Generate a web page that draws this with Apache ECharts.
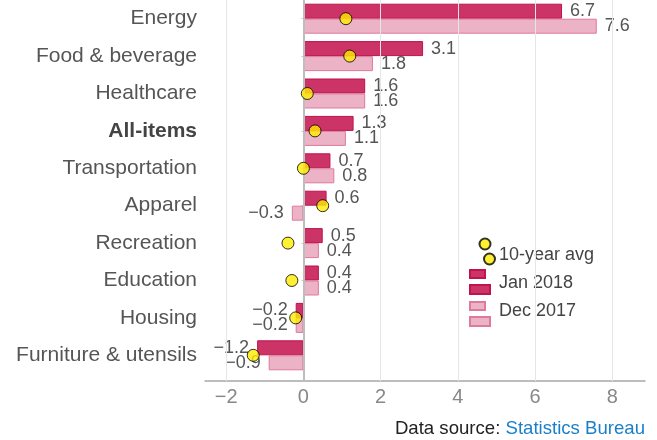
<!DOCTYPE html>
<html>
<head>
<meta charset="utf-8">
<script src="https://cdn.jsdelivr.net/npm/echarts@6/dist/echarts.min.js"></script>
<style>html,body{margin:0;padding:0;background:#fff}#c{width:657px;height:440px}</style>
</head>
<body>
<div id="c"></div>
<script>
const categories = ['Energy','Food & beverage','Healthcare','All-items','Transportation','Apparel','Recreation','Education','Housing','Furniture & utensils'];
const jan2018 = [6.7, 3.1, 1.6, 1.3, 0.7, 0.6, 0.5, 0.4, -0.2, -1.2];
const dec2017 = [7.6, 1.8, 1.6, 1.1, 0.8, -0.3, 0.4, 0.4, -0.2, -0.9];
const avg10 = [1.1, 1.2, 0.1, 0.3, 0.0, 0.5, -0.4, -0.3, -0.2, -1.3];
const xTicks = [-2, 0, 2, 4, 6, 8];

const fmt = v => (v < 0 ? '\u2212' + Math.abs(v) : String(v));
const fmt1 = v => (v < 0 ? '\u2212' + Math.abs(v).toFixed(1) : v.toFixed(1));

const FONT = '"Liberation Sans", Arial, Helvetica, sans-serif';
const X_MIN = -2.55, X_MAX = 8.85;

function barData(arr) {
  return arr.map(v => ({
    value: v,
    label: { position: v < 0 ? 'left' : 'right' }
  }));
}

const hiddenText = { fontSize: 8, lineHeight: 8, color: 'rgba(0,0,0,0)' };

const chart = echarts.init(document.getElementById('c'), null, { renderer: 'canvas' });
chart.setOption({
  animation: false,
  textStyle: { fontFamily: FONT },
  title: {
    text: '{a|Data source: }{b|Statistics Bureau}',
    right: 12, top: 419, padding: 0,
    textStyle: {
      fontWeight: 'normal',
      rich: {
        a: { fontSize: 18.6, color: '#222', fontWeight: 'normal', fontFamily: FONT },
        b: { fontSize: 18.6, color: '#1a7fc9', fontWeight: 'normal', fontFamily: FONT }
      }
    }
  },
  legend: [
    { data: ['10-year avg'], left: 478.5, top: 237.5, padding: 0, itemWidth: 11, itemHeight: 11,
      formatter: () => '', textStyle: hiddenText, selectedMode: false },
    { data: ['10-year avg'], left: 483, top: 252.5, padding: 0, itemWidth: 11, itemHeight: 11,
      formatter: () => '', textStyle: hiddenText, selectedMode: false },
    { data: ['Jan 2018', 'Dec 2017'], orient: 'vertical', left: 469, top: 269, padding: 0, icon: 'rect',
      itemWidth: 15, itemHeight: 8, itemGap: 22, formatter: () => '', textStyle: hiddenText, selectedMode: false },
    { data: ['Jan 2018', 'Dec 2017'], orient: 'vertical', left: 469, top: 284, padding: 0, icon: 'rect',
      itemWidth: 20, itemHeight: 9, itemGap: 21, formatter: () => '', textStyle: hiddenText, selectedMode: false },
    { data: ['10-year avg', 'Jan 2018', 'Dec 2017'], orient: 'vertical', left: 469, top: 245, padding: 0,
      itemWidth: 25, itemHeight: 9, itemGap: 8, icon: 'rect',
      itemStyle: { color: 'rgba(0,0,0,0)', borderColor: 'rgba(0,0,0,0)', borderWidth: 0 },
      textStyle: { fontSize: 18, lineHeight: 20, color: '#444', fontFamily: FONT }, selectedMode: false }
  ],
  grid: [
    { left: 205, right: 12, top: -2, height: 376 },
    { left: 205, right: 12, top: 0, height: 381 }
  ],
  xAxis: [
    { type: 'value', gridIndex: 0, min: X_MIN, max: X_MAX, offset: 7,
      axisLine: { show: true, lineStyle: { color: '#a8a8a8', width: 1.5 } },
      axisTick: { show: false },
      splitLine: { show: false },
      axisLabel: { customValues: xTicks, formatter: fmt, color: '#888', fontSize: 20, margin: 6 } },
    { type: 'value', gridIndex: 1, min: X_MIN, max: X_MAX, show: false }
  ],
  yAxis: [
    { type: 'category', gridIndex: 0, data: categories, inverse: true,
      axisLine: { show: false },
      axisTick: { show: true, alignWithLabel: true, length: 2, lineStyle: { color: '#ccc' } },
      axisLabel: { color: '#555', fontSize: 21, margin: 8,
        formatter: v => (v === 'All-items' ? '{b|' + v + '}' : v),
        rich: { b: { fontWeight: 'bold', fontSize: 21, color: '#444', fontFamily: FONT } } } },
    { type: 'value', gridIndex: 1, min: 0, max: 1, show: false }
  ],
  series: [
    { type: 'line', name: '_grid', xAxisIndex: 1, yAxisIndex: 1, data: [[0, 0]], showSymbol: false,
      lineStyle: { opacity: 0 }, silent: true, z: 0,
      markLine: { silent: true, symbol: 'none', label: { show: false }, animation: false,
        data: xTicks.map(v => ({ xAxis: v,
          lineStyle: v === 0 ? { color: '#bdbdbd', width: 2, type: 'solid' } : { color: '#e6e6e6', width: 1, type: 'solid' } })) } },
    { type: 'bar', name: 'Jan 2018', xAxisIndex: 0, yAxisIndex: 0, barWidth: 15, barGap: '0%', z: 3,
      data: barData(jan2018),
      itemStyle: { color: '#cc3366', borderColor: '#c0134f', borderWidth: 1, borderRadius: 0 },
      label: { show: true, distance: 8, fontSize: 18, color: '#555', formatter: p => fmt1(p.value) } },
    { type: 'bar', name: 'Dec 2017', xAxisIndex: 0, yAxisIndex: 0, barWidth: 15, barGap: '0%', z: 3,
      data: barData(dec2017),
      itemStyle: { color: '#ecb2c6', borderColor: '#de7a9e', borderWidth: 1, borderRadius: 0 },
      label: { show: true, distance: 8, fontSize: 18, color: '#555', formatter: p => fmt1(p.value) } },
    { type: 'scatter', name: '10-year avg', xAxisIndex: 0, yAxisIndex: 0, symbolSize: 12, z: 5,
      data: avg10.map((v, i) => [v, i]),
      itemStyle: { color: '#ffec00', borderColor: '#000', borderWidth: 1 } }
  ]
});
</script>
</body>
</html>
